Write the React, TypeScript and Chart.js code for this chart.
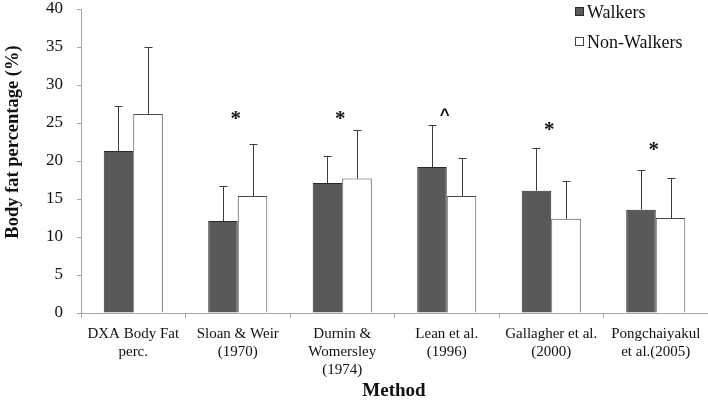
import React, { useEffect, useRef } from "react";
import { Chart, registerables } from "chart.js";

Chart.register(...registerables);

const categories: string[][] = [
  ["DXA Body Fat", "perc."],
  ["Sloan & Weir", "(1970)"],
  ["Durnin &", "Womersley", "(1974)"],
  ["Lean et al.", "(1996)"],
  ["Gallagher et al.", "(2000)"],
  ["Pongchaiyakul", "et al.(2005)"],
];
const walkers = [21.3, 12.1, 17.1, 19.2, 16.1, 13.6];
const walkersSD = [5.9, 4.6, 3.5, 5.5, 5.6, 5.2];
const nonWalkers = [26.2, 15.4, 17.7, 15.4, 12.4, 12.5];
const nonWalkersSD = [8.8, 6.9, 6.4, 5.0, 5.0, 5.2];
const markers = ["", "*", "*", "^", "*", "*"];
const markerValues = [0, 25.8, 25.8, 26.6, 24.4, 21.75];
const yTicks = [0, 5, 10, 15, 20, 25, 30, 35, 40];

const FONT = "'Liberation Serif', 'Times New Roman', serif";

const overlay = {
  id: "overlay",
  afterDatasetsDraw(chart: any) {
    const ctx = chart.ctx;
    const y = chart.scales.y;
    const x = chart.scales.x;
    const sds = [walkersSD, nonWalkersSD];
    ctx.save();
    ctx.strokeStyle = "#3c3c3c";
    ctx.lineWidth = 1;
    chart.data.datasets.forEach((ds: any, di: number) => {
      const meta = chart.getDatasetMeta(di);
      meta.data.forEach((bar: any, i: number) => {
        const top = y.getPixelForValue(ds.data[i] + sds[di][i]);
        const bx = Math.round(bar.x) + 0.5;
        ctx.beginPath();
        ctx.moveTo(bx, bar.y);
        ctx.lineTo(bx, Math.round(top) + 0.5);
        ctx.moveTo(bx - 4, Math.round(top) + 0.5);
        ctx.lineTo(bx + 4, Math.round(top) + 0.5);
        ctx.stroke();
      });
    });
    // significance markers
    ctx.fillStyle = "#111";
    ctx.textAlign = "center";
    ctx.textBaseline = "middle";
    markers.forEach((m, i) => {
      if (!m) return;
      const cx = x.getPixelForValue(i);
      const cy = y.getPixelForValue(markerValues[i]);
      if (m === "^") {
        ctx.font = `bold 17px 'Liberation Sans', Arial, sans-serif`;
        ctx.fillText(m, cx - 2, cy + 4);
      } else {
        ctx.font = `bold 21px ${FONT}`;
        ctx.fillText(m, cx - 2, cy + 3);
      }
    });
    // legend
    const items = [
      { label: "Walkers", fill: "#595959", stroke: "#2a2a2a" },
      { label: "Non-Walkers", fill: "#ffffff", stroke: "#444" },
    ];
    ctx.textAlign = "left";
    ctx.font = `18px ${FONT}`;
    items.forEach((it, k) => {
      const cy = 12 + k * 30;
      ctx.fillStyle = it.fill;
      ctx.fillRect(575.5, cy - 4.5, 8, 8);
      ctx.strokeStyle = it.stroke;
      ctx.strokeRect(575.5, cy - 4.5, 8, 8);
      ctx.fillStyle = "#111";
      ctx.fillText(it.label, 587, cy + 1);
    });
    // axis titles
    ctx.textAlign = "center";
    ctx.font = `bold 19px ${FONT}`;
    ctx.fillText("Method", 394, 391);
    ctx.font = `bold 18.5px ${FONT}`;
    ctx.translate(13, 142);
    ctx.rotate(-Math.PI / 2);
    ctx.fillText("Body fat percentage (%)", 0, 0);
    ctx.restore();
  },
};

export default function App() {
  const ref = useRef<HTMLCanvasElement>(null);
  useEffect(() => {
    document.body.style.margin = "0";
    const chart = new Chart(ref.current as HTMLCanvasElement, {
      type: "bar",
      data: {
        labels: categories as any,
        datasets: [
          {
            label: "Walkers",
            data: walkers,
            backgroundColor: "#595959",
            borderColor: "#2a2a2a",
            borderWidth: 1,
          },
          {
            label: "Non-Walkers",
            data: nonWalkers,
            backgroundColor: "#ffffff",
            borderColor: "#4a4a4a",
            borderWidth: 1,
          },
        ],
      },
      options: {
        animation: false,
        responsive: false,
        maintainAspectRatio: false,
        layout: { padding: { top: 9, right: 0, left: 0, bottom: 0 } },
        datasets: { bar: { categoryPercentage: 0.565, barPercentage: 1.0 } },
        plugins: { legend: { display: false }, tooltip: { enabled: false } },
        scales: {
          x: {
            afterFit: (s: any) => {
              s.height = 87;
              s.paddingLeft = 0;
              s.paddingRight = 0;
            },
            border: { color: "#a6a6a6", width: 1 },
            grid: {
              display: true,
              drawOnChartArea: false,
              drawTicks: true,
              tickLength: 5,
              color: "#a6a6a6",
              offset: true,
            },
            ticks: {
              color: "#111",
              font: { family: FONT, size: 15, lineHeight: 1.2 },
              maxRotation: 0,
              autoSkip: false,
              padding: 7,
            },
          },
          y: {
            min: 0,
            max: 40,
            afterFit: (s: any) => {
              s.width = 81;
              s.paddingTop = 0;
              s.paddingBottom = 0;
            },
            afterBuildTicks: (s: any) => {
              s.ticks = yTicks.map((v) => ({ value: v }));
            },
            border: { color: "#a6a6a6", width: 1 },
            grid: {
              display: true,
              drawOnChartArea: false,
              drawTicks: true,
              tickLength: 4,
              color: "#a6a6a6",
            },
            ticks: {
              color: "#111",
              font: { family: FONT, size: 17, lineHeight: 1 },
              padding: 14,
            },
          },
        },
      },
      plugins: [overlay],
    });
    return () => chart.destroy();
  }, []);
  return (
    <div style={{ width: 708, height: 400 }}>
      <canvas ref={ref} width={708} height={400} style={{ display: "block" }} />
    </div>
  );
}
